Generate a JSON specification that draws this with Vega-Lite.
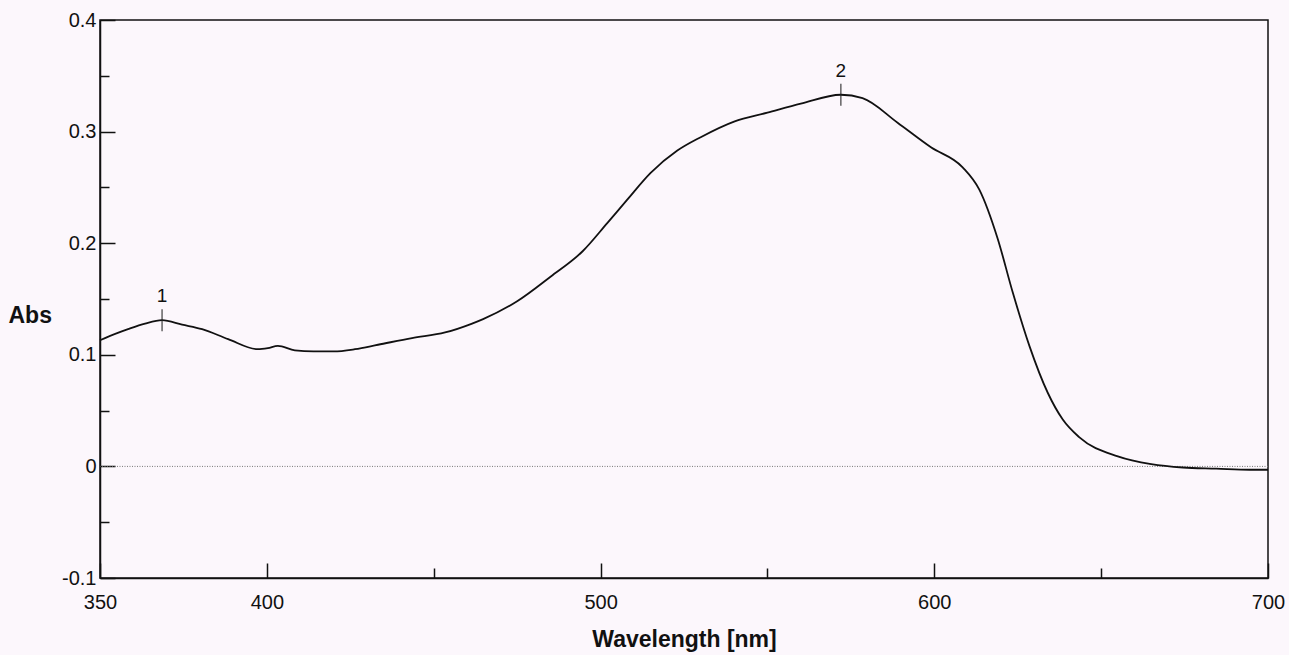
{
  "$schema": "https://vega.github.io/schema/vega-lite/v6.json",
  "autosize": "none",
  "width": 1168,
  "height": 558,
  "padding": {"left": 100, "top": 20, "right": 21, "bottom": 77},
  "background": "#fcf7fc",
  "config": {
    "font": "Liberation Sans",
    "view": {"stroke": "#111", "strokeWidth": 1.5},
    "axis": {
      "domainColor": "#111", "domainWidth": 1.5,
      "tickColor": "#111", "tickWidth": 1.5,
      "grid": false,
      "labelColor": "#111", "titleColor": "#111",
      "labelFontSize": 20, "titleFontSize": 23, "titleFontWeight": "bold",
      "labelFlush": false, "labelOverlap": false
    }
  },
  "datasets": {
    "spectrum": [
      {"wavelength": 350, "abs": 0.113},
      {"wavelength": 351.5, "abs": 0.115},
      {"wavelength": 358.4, "abs": 0.123},
      {"wavelength": 363.5, "abs": 0.128},
      {"wavelength": 368.6, "abs": 0.131},
      {"wavelength": 374.6, "abs": 0.127},
      {"wavelength": 380.6, "abs": 0.123},
      {"wavelength": 388.4, "abs": 0.114},
      {"wavelength": 397.3, "abs": 0.105},
      {"wavelength": 400.3, "abs": 0.106},
      {"wavelength": 403.3, "abs": 0.108},
      {"wavelength": 408.4, "abs": 0.104},
      {"wavelength": 414.0, "abs": 0.103},
      {"wavelength": 420.0, "abs": 0.103},
      {"wavelength": 426.4, "abs": 0.105},
      {"wavelength": 433.3, "abs": 0.109},
      {"wavelength": 443.5, "abs": 0.115},
      {"wavelength": 453.4, "abs": 0.120},
      {"wavelength": 461.5, "abs": 0.128},
      {"wavelength": 464.8, "abs": 0.132},
      {"wavelength": 475.0, "abs": 0.148},
      {"wavelength": 485.0, "abs": 0.170},
      {"wavelength": 494.7, "abs": 0.193},
      {"wavelength": 502.0, "abs": 0.218},
      {"wavelength": 508.0, "abs": 0.239},
      {"wavelength": 515.0, "abs": 0.263},
      {"wavelength": 523.0, "abs": 0.283},
      {"wavelength": 530.0, "abs": 0.295},
      {"wavelength": 540.0, "abs": 0.309},
      {"wavelength": 550.0, "abs": 0.317},
      {"wavelength": 560.0, "abs": 0.325},
      {"wavelength": 572.0, "abs": 0.333},
      {"wavelength": 578.5, "abs": 0.330},
      {"wavelength": 589.0, "abs": 0.308},
      {"wavelength": 599.0, "abs": 0.286},
      {"wavelength": 608.5, "abs": 0.268},
      {"wavelength": 613.5, "abs": 0.248},
      {"wavelength": 619.0, "abs": 0.204},
      {"wavelength": 623.5, "abs": 0.156},
      {"wavelength": 628.5, "abs": 0.108},
      {"wavelength": 634.0, "abs": 0.066},
      {"wavelength": 638.5, "abs": 0.042},
      {"wavelength": 643.5, "abs": 0.026},
      {"wavelength": 655.0, "abs": 0.009},
      {"wavelength": 665.0, "abs": 0.002},
      {"wavelength": 674.5, "abs": -0.001},
      {"wavelength": 684.5, "abs": -0.002},
      {"wavelength": 694.5, "abs": -0.003},
      {"wavelength": 700.0, "abs": -0.003}
    ],
    "peaks": [
      {"peak": "1", "wavelength": 368.6, "abs": 0.131},
      {"peak": "2", "wavelength": 572.0, "abs": 0.333}
    ],
    "baseline": [
      {"abs": 0}
    ]
  },
  "layer": [
    {
      "data": {"name": "baseline"},
      "mark": {"type": "rule", "color": "#777", "strokeDash": [1, 1.5], "strokeWidth": 1},
      "encoding": {
        "y": {"field": "abs", "type": "quantitative", "scale": {"domain": [-0.1, 0.4], "nice": false, "zero": false}, "axis": null}
      }
    },
    {
      "data": {"name": "spectrum"},
      "mark": {"type": "line", "color": "#111", "strokeWidth": 1.8, "interpolate": "monotone"},
      "encoding": {
        "x": {
          "field": "wavelength", "type": "quantitative",
          "scale": {"domain": [350, 700], "nice": false, "zero": false},
          "axis": {
            "title": "Wavelength [nm]", "values": [350, 400, 500, 600, 700],
            "format": "d", "tickSize": -15, "labelPadding": 29,
            "titleY": 68, "titleBaseline": "alphabetic"
          }
        },
        "y": {
          "field": "abs", "type": "quantitative",
          "scale": {"domain": [-0.1, 0.4], "nice": false, "zero": false},
          "axis": {
            "title": "Abs", "values": [-0.1, 0, 0.1, 0.2, 0.3, 0.4],
            "labelExpr": "datum.value === 0 ? '0' : (datum.value < 0 ? '-' : '') + format(abs(datum.value), '.1f')",
            "tickSize": -15, "labelPadding": 19,
            "titleAngle": 0, "titleAlign": "left", "titleBaseline": "alphabetic",
            "titleX": -92, "titleY": 302
          }
        }
      }
    },
    {
      "data": {"name": "peaks"},
      "mark": {"type": "tick", "orient": "vertical", "size": 22, "thickness": 1.5, "color": "#222"},
      "encoding": {
        "x": {
          "field": "wavelength", "type": "quantitative",
          "scale": {"domain": [350, 700], "nice": false, "zero": false},
          "axis": {"orient": "bottom", "title": null, "values": [450, 550, 650], "labels": false, "domain": false, "tickSize": -10}
        },
        "y": {
          "field": "abs", "type": "quantitative",
          "scale": {"domain": [-0.1, 0.4], "nice": false, "zero": false},
          "axis": {"orient": "left", "title": null, "values": [-0.05, 0.05, 0.15, 0.25, 0.35], "labels": false, "domain": false, "tickSize": -9}
        }
      }
    },
    {
      "data": {"name": "peaks"},
      "mark": {"type": "text", "dy": -24, "fontSize": 19, "color": "#111", "baseline": "middle"},
      "encoding": {
        "x": {"field": "wavelength", "type": "quantitative", "scale": {"domain": [350, 700], "nice": false, "zero": false}, "axis": null},
        "y": {"field": "abs", "type": "quantitative", "scale": {"domain": [-0.1, 0.4], "nice": false, "zero": false}, "axis": null},
        "text": {"field": "peak", "type": "nominal"}
      }
    }
  ],
  "resolve": {"axis": {"x": "independent", "y": "independent"}}
}
